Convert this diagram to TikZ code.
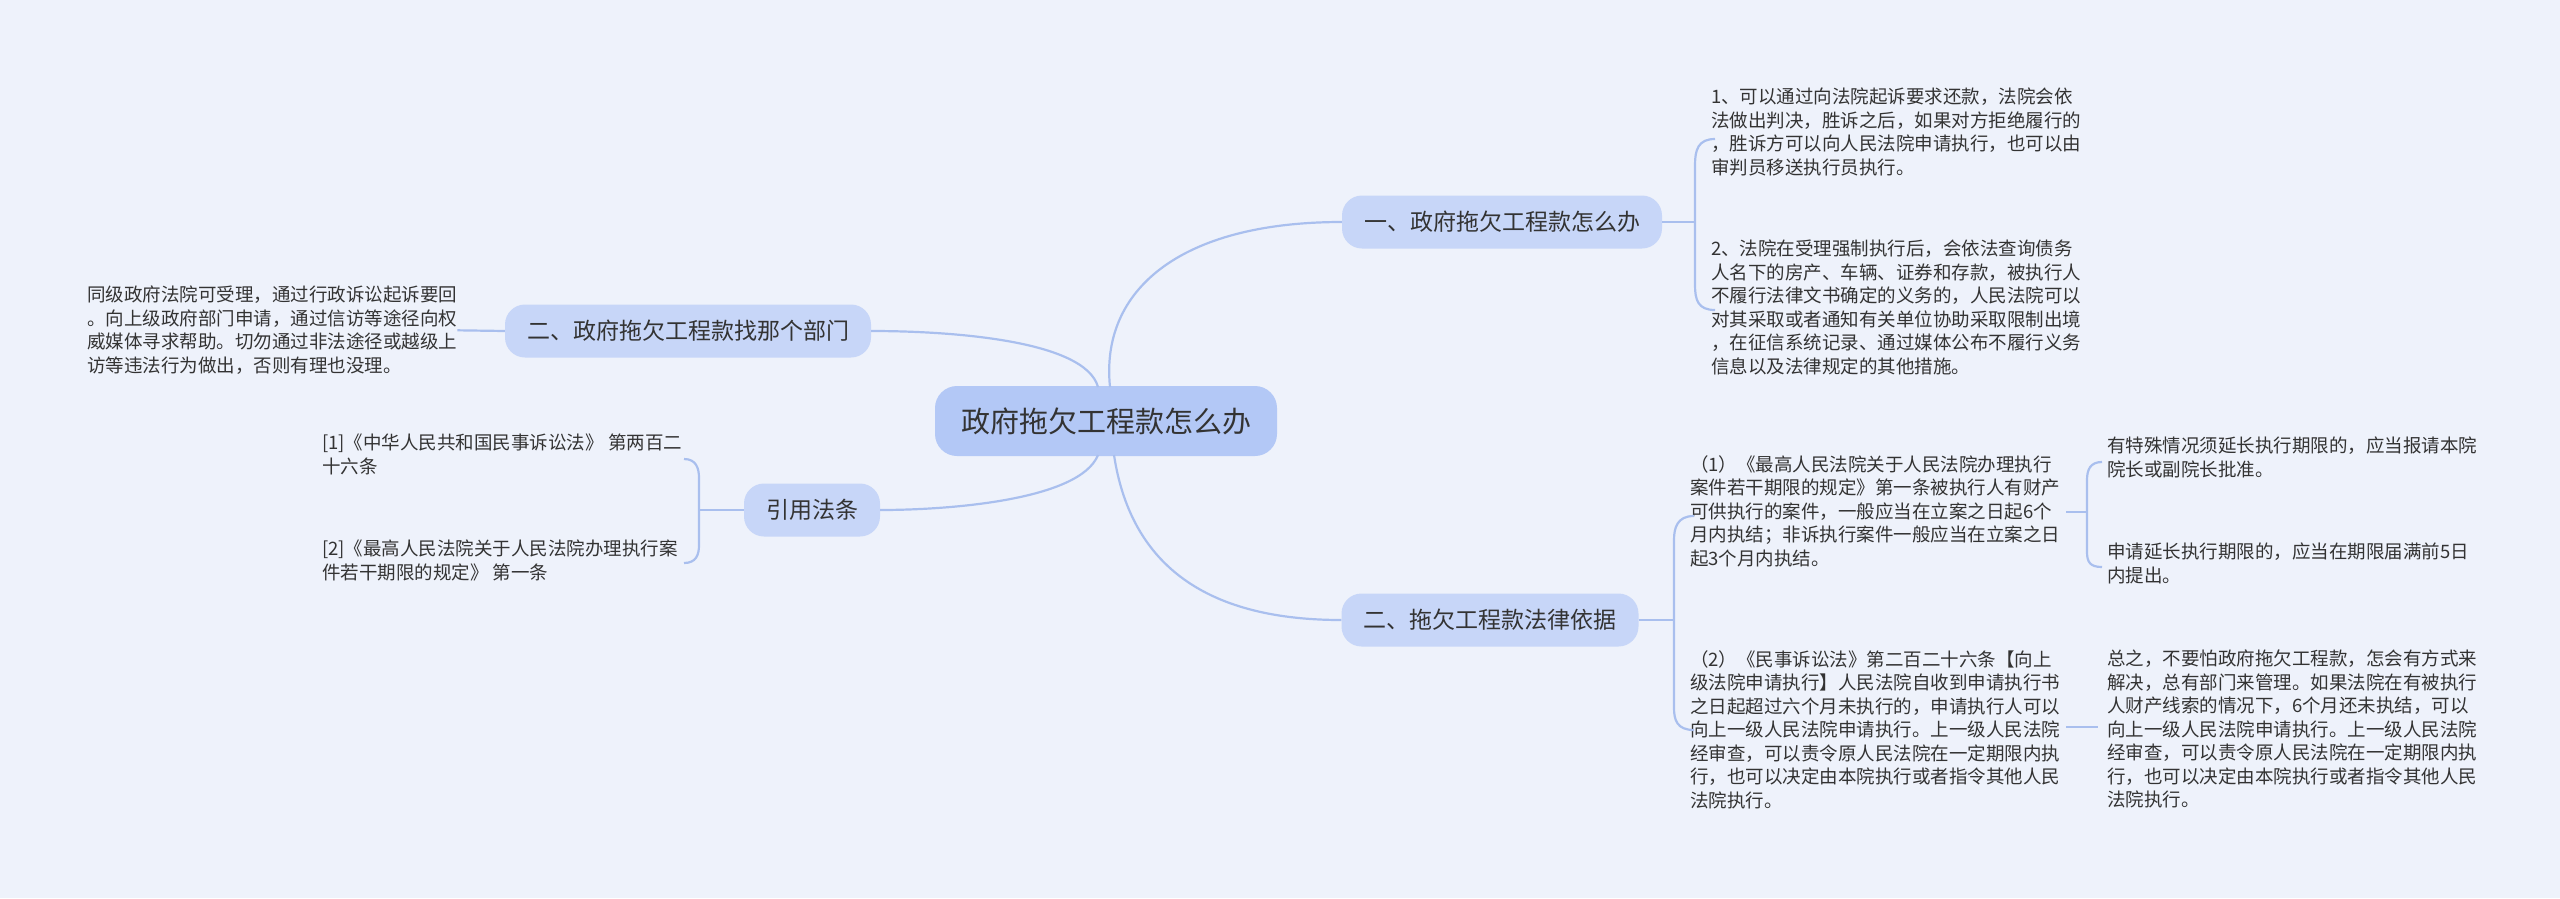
\documentclass[tikz,border=0pt]{standalone}
\usepackage{fontspec}
\setmainfont{Noto Sans CJK SC}
\definecolor{bg}{HTML}{EEF2FB}
\definecolor{boxc}{HTML}{C7D6F8}
\definecolor{rootc}{HTML}{B3C8F6}
\definecolor{linec}{HTML}{A9BFEE}
\definecolor{txt}{HTML}{333333}
\tikzset{
  rootbox/.style={draw=none,fill=rootc,rounded corners=22pt,minimum height=70pt,inner xsep=26pt,text=txt,font=\fontsize{29}{34}\selectfont},
  branch/.style={draw=none,fill=boxc,rounded corners=20pt,minimum height=53pt,inner xsep=22pt,text=txt,font=\fontsize{23}{28}\selectfont},
  leaf/.style={anchor=north west,inner sep=0pt,align=left,text=txt,font=\fontsize{18.5}{23.5}\selectfont},
  conn/.style={draw=linec,line width=2.2pt},
}
\begin{document}
\begin{tikzpicture}[x=1pt,y=-1pt]
\fill[bg] (0,0) rectangle (2560,898);
\useasboundingbox (0,0) rectangle (2560,898);

\node[rootbox] (root) at (1106,421) {政府拖欠工程款怎么办};
\node[branch] (b1) at (1502,222) {一、政府拖欠工程款怎么办};
\node[branch] (b2) at (688,331) {二、政府拖欠工程款找那个部门};
\node[branch] (b3) at (812,510) {引用法条};
\node[branch] (b4) at (1490,620) {二、拖欠工程款法律依据};

\node[leaf] (l1a) at (1711,88) {1、可以通过向法院起诉要求还款，法院会依\\法做出判决，胜诉之后，如果对方拒绝履行的\\，胜诉方可以向人民法院申请执行，也可以由\\审判员移送执行员执行。};
\node[leaf] (l1b) at (1711,240) {2、法院在受理强制执行后，会依法查询债务\\人名下的房产、车辆、证券和存款，被执行人\\不履行法律文书确定的义务的，人民法院可以\\对其采取或者通知有关单位协助采取限制出境\\，在征信系统记录、通过媒体公布不履行义务\\信息以及法律规定的其他措施。};
\node[leaf] (l2) at (87,286) {同级政府法院可受理，通过行政诉讼起诉要回\\。向上级政府部门申请，通过信访等途径向权\\威媒体寻求帮助。切勿通过非法途径或越级上\\访等违法行为做出，否则有理也没理。};
\node[leaf] (l3a) at (322,434) {[1]《中华人民共和国民事诉讼法》 第两百二\\十六条};
\node[leaf] (l3b) at (322,540) {[2]《最高人民法院关于人民法院办理执行案\\件若干期限的规定》 第一条};
\node[leaf] (l4a) at (1690,455) {（1）《最高人民法院关于人民法院办理执行\\案件若干期限的规定》第一条被执行人有财产\\可供执行的案件，一般应当在立案之日起6个\\月内执结；非诉执行案件一般应当在立案之日\\起3个月内执结。};
\node[leaf] (l4b) at (1690,650) {（2）《民事诉讼法》第二百二十六条【向上\\级法院申请执行】人民法院自收到申请执行书\\之日起超过六个月未执行的，申请执行人可以\\向上一级人民法院申请执行。上一级人民法院\\经审查，可以责令原人民法院在一定期限内执\\行，也可以决定由本院执行或者指令其他人民\\法院执行。};
\node[leaf] (l4a1) at (2107,437) {有特殊情况须延长执行期限的，应当报请本院\\院长或副院长批准。};
\node[leaf] (l4a2) at (2107,543) {申请延长执行期限的，应当在期限届满前5日\\内提出。};
\node[leaf] (l4b1) at (2107,650) {总之，不要怕政府拖欠工程款，怎会有方式来\\解决，总有部门来管理。如果法院在有被执行\\人财产线索的情况下，6个月还未执结，可以\\向上一级人民法院申请执行。上一级人民法院\\经审查，可以责令原人民法院在一定期限内执\\行，也可以决定由本院执行或者指令其他人民\\法院执行。};

% root connectors
\draw[conn] (1110,387) .. controls (1100,290) and (1180,222) .. (b1.west);
\draw[conn] (1098,387) .. controls (1085,340) and (950,331) .. (b2.east);
\draw[conn] (1098,455) .. controls (1080,500) and (950,510) .. (b3.east);
\draw[conn] (1114,455) .. controls (1130,560) and (1200,620) .. (b4.west);

% b1 bracket
\draw[conn] (b1.east) -- (1695,222);
\draw[conn] (1715,139) .. controls (1698,139) and (1695,150) .. (1695,165) -- (1695,285) .. controls (1695,300) and (1698,310) .. (1715,310);
% b2
\draw[conn] (b2.west) -- (l2.east);
% b3 bracket
\draw[conn] (b3.west) -- (699,510);
\draw[conn] (684,459) .. controls (696,459) and (699,468) .. (699,478) -- (699,545) .. controls (699,555) and (696,563) .. (684,563);
% b4 bracket
\draw[conn] (b4.east) -- (1674,620);
\draw[conn] (1694,516) .. controls (1677,516) and (1674,528) .. (1674,540) -- (1674,708) .. controls (1674,720) and (1677,730) .. (1694,730);
% l4a bracket
\draw[conn] (2066,512) -- (2087,512);
\draw[conn] (2102,462) .. controls (2090,462) and (2087,470) .. (2087,480) -- (2087,552) .. controls (2087,562) and (2090,567) .. (2102,567);
% l4b
\draw[conn] (2066,727) -- (2098,727);
\end{tikzpicture}
\end{document}
